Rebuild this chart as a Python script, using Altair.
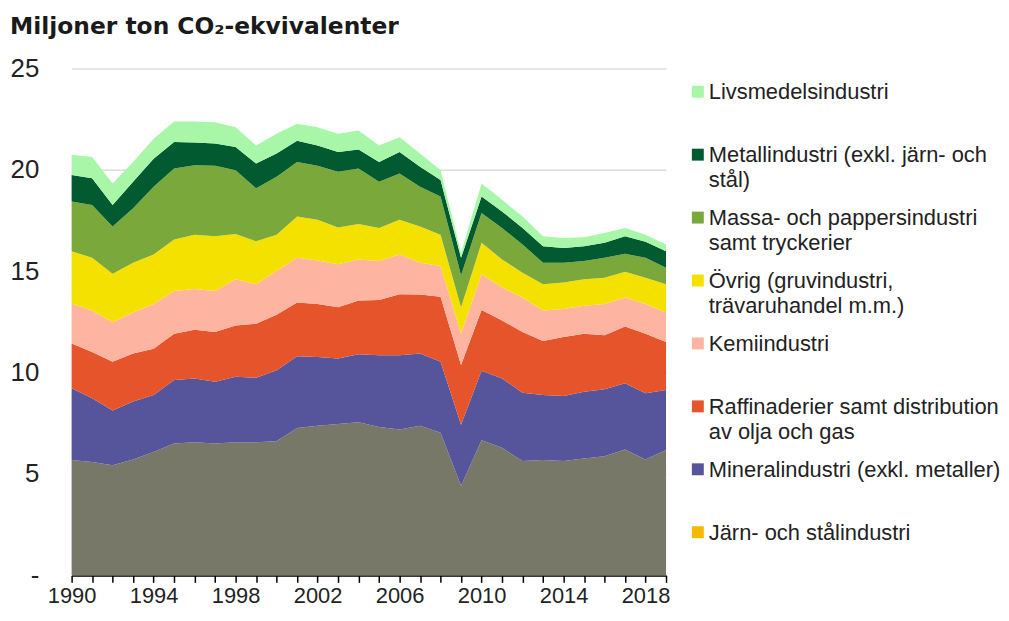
import altair as alt
import pandas as pd

years = list(range(1990, 2020))

# stacked values (million tonnes CO2-eq), bottom to top
jarn_stal = [5.69, 5.59, 5.43, 5.72, 6.08, 6.50, 6.57, 6.50, 6.57, 6.57,
             6.62, 7.27, 7.38, 7.46, 7.55, 7.32, 7.19, 7.38, 7.03, 4.42,
             6.67, 6.29, 5.64, 5.69, 5.64, 5.76, 5.88, 6.21, 5.72, 6.18]
mineral = [3.54, 3.15, 2.70, 2.85, 2.82, 3.13, 3.14, 3.05, 3.23, 3.18,
           3.50, 3.54, 3.39, 3.23, 3.35, 3.53, 3.66, 3.56, 3.50, 3.01,
           3.42, 3.42, 3.37, 3.21, 3.21, 3.30, 3.30, 3.26, 3.26, 2.96]
raffinaderier = [2.20, 2.28, 2.40, 2.37, 2.28, 2.29, 2.40, 2.45, 2.52, 2.66,
                 2.73, 2.65, 2.61, 2.53, 2.65, 2.73, 3.02, 2.91, 3.21, 2.94,
                 3.00, 2.86, 2.99, 2.66, 2.90, 2.86, 2.66, 2.80, 2.94, 2.37]
kemi = [1.98, 2.04, 1.95, 2.03, 2.20, 2.11, 2.01, 2.03, 2.28, 1.95,
        2.16, 2.20, 2.15, 2.12, 2.03, 1.92, 1.96, 1.57, 1.52, 1.55,
        1.76, 1.63, 1.70, 1.50, 1.39, 1.38, 1.54, 1.43, 1.46, 1.46]
ovrig = [2.58, 2.60, 2.40, 2.45, 2.45, 2.53, 2.68, 2.69, 2.24, 2.12,
         1.79, 2.04, 2.01, 1.82, 1.75, 1.63, 1.71, 1.79, 1.54, 1.30,
         1.55, 1.38, 1.23, 1.30, 1.30, 1.30, 1.30, 1.28, 1.30, 1.39]
massa = [2.45, 2.61, 2.33, 2.68, 3.34, 3.50, 3.43, 3.48, 3.14, 2.61,
         2.86, 2.69, 2.66, 2.74, 2.73, 2.28, 2.28, 1.96, 1.88, 1.58,
         1.47, 1.55, 1.39, 1.06, 0.98, 0.90, 0.98, 0.88, 0.98, 0.81]
metall = [1.30, 1.31, 1.06, 1.31, 1.38, 1.31, 1.12, 1.10, 1.14, 1.22,
          1.14, 1.05, 1.00, 0.98, 0.94, 0.98, 1.06, 0.98, 0.82, 0.86,
          0.81, 0.82, 0.81, 0.81, 0.73, 0.73, 0.74, 0.86, 0.79, 0.82]
livsmedel = [1.01, 1.05, 1.06, 0.98, 0.98, 1.01, 1.03, 1.05, 0.98, 0.89,
             0.98, 0.83, 0.90, 0.90, 0.94, 0.81, 0.73, 0.65, 0.48, 0.24,
             0.65, 0.57, 0.57, 0.49, 0.49, 0.44, 0.49, 0.41, 0.35, 0.33]

series_names = ["Järn- och stålindustri", "Mineralindustri", "Raffinaderier",
                "Kemiindustri", "Övrig", "Massa", "Metall", "Livsmedel"]
series_values = [jarn_stal, mineral, raffinaderier, kemi, ovrig, massa, metall, livsmedel]
area_colors = ["#787868", "#56559c", "#e5542a", "#fdb5a1", "#f5e100",
               "#7aa83a", "#015a30", "#a8f7a8"]

# legend (top to bottom)
legend_items = ["Livsmedel", "Metall", "Massa", "Övrig", "Kemiindustri",
                "Raffinaderier", "Mineralindustri", "Järn- och stålindustri"]
legend_labels = ["Livsmedelsindustri",
                 "Metallindustri (exkl. järn- och\nstål)",
                 "Massa- och pappersindustri\nsamt tryckerier",
                 "Övrig (gruvindustri,\nträvaruhandel m.m.)",
                 "Kemiindustri",
                 "Raffinaderier samt distribution\nav olja och gas",
                 "Mineralindustri (exkl. metaller)",
                 "Järn- och stålindustri"]
legend_colors = ["#a8f7a8", "#015a30", "#7aa83a", "#f5e100", "#fdb5a1",
                 "#e5542a", "#56559c", "#f7b800"]

rows = []
for i, (name, vals) in enumerate(zip(series_names, series_values)):
    for y, v in zip(years, vals):
        rows.append({"year": y, "series": name, "value": v, "order": i})
df = pd.DataFrame(rows)

FONT = "Liberation Sans"

area = alt.Chart(df).mark_area(interpolate="linear").encode(
    x=alt.X("year:Q",
            scale=alt.Scale(domain=[1990, 2019], nice=False, zero=False),
            axis=alt.Axis(values=years, title=None, grid=False,
                          labelExpr="(datum.value - 1990) % 4 == 0 ? datum.value : ''",
                          format="d", labelFontSize=22, labelFont=FONT,
                          labelColor="#222222", tickColor="#000000", tickSize=7,
                          tickWidth=1.5, domainWidth=1.5,
                          domainColor="#000000", labelPadding=3, labelFlush=False)),
    y=alt.Y("value:Q", stack="zero",
            scale=alt.Scale(domain=[0, 25], nice=False),
            axis=alt.Axis(values=[0, 5, 10, 15, 20, 25], title=None,
                          labelExpr="datum.value == 0 ? '-' : datum.label",
                          labelFontSize=26, labelFont=FONT, labelColor="#222222",
                          ticks=False, domain=False, labelPadding=33,
                          gridColor="#dcdcdc", gridWidth=1.5)),
    color=alt.Color("series:N", scale=alt.Scale(domain=series_names, range=area_colors),
                    legend=None),
    order=alt.Order("order:Q", sort="ascending"),
).properties(width=598, height=510)

leg_df = pd.DataFrame({"item": legend_items, "label": legend_labels, "color": legend_colors})

ybase = alt.Chart(leg_df).encode(
    y=alt.Y("item:N", sort=legend_items, axis=None,
            scale=alt.Scale(type="point", padding=0.37)))

squares = ybase.mark_square(size=144, opacity=1).encode(
    x=alt.value(8),
    color=alt.Color("color:N", scale=None))

texts = ybase.mark_text(align="left", baseline="top", dy=-9.5, fontSize=22,
                        font=FONT, color="#222222", lineBreak="\n",
                        lineHeight=25).encode(
    x=alt.value(19), text="label:N")

legend = alt.layer(squares, texts).properties(width=290, height=490)

chart = alt.hconcat(area, legend, spacing=20).properties(
    title=alt.TitleParams("Miljoner ton CO₂-ekvivalenter", anchor="start",
                          font="DejaVu Sans", fontSize=23.5, fontWeight="bold",
                          color="#1a1a1a", offset=17),
    padding={"left": 2, "top": 5, "right": 0, "bottom": 0},
).configure_view(stroke=None)

chart.save("out.html", embed_options={"renderer": "svg", "actions": False})
